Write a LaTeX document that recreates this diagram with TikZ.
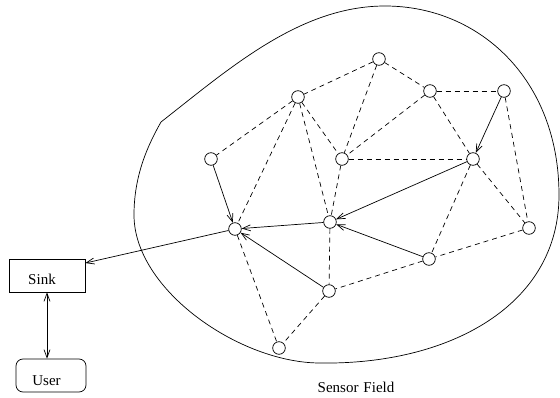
\documentclass[tikz,border=0pt]{standalone}
\usepackage{fontspec}
\setmainfont{Liberation Serif}
\usetikzlibrary{arrows.meta}
\begin{document}
\begin{tikzpicture}[x=1pt,y=-1pt,
  sensor/.style={circle,draw,line width=0.7pt,minimum size=12.6pt,inner sep=0pt},
  radio/.style={draw,line width=0.7pt,dash pattern=on 5pt off 4pt},
  flow/.style={draw,line width=0.7pt,-{Straight Barb[length=8pt,width=6pt]}},
  lbl/.style={font=\fontsize{15}{18}\selectfont,anchor=base,inner sep=0pt}]
\useasboundingbox (0,0) rectangle (560,398);
% sensor field outline
\draw[line width=0.7pt] (161,122) .. controls (230,68) and (300,6) .. (385,6)
  .. controls (480,6) and (559,80) .. (559,195)
  .. controls (559,305) and (450,365) .. (320,363)
  .. controls (240,363) and (134,290) .. (134,215)
  .. controls (134,175) and (148,145) .. (161,122) -- cycle;
% sensors
\node[sensor] (A) at (379,59) {};
\node[sensor] (B) at (298,97) {};
\node[sensor] (C) at (430,91) {};
\node[sensor] (D) at (504,91) {};
\node[sensor] (E) at (211,159) {};
\node[sensor] (F) at (342,159) {};
\node[sensor] (G) at (473,159) {};
\node[sensor] (H) at (235,229) {};
\node[sensor] (I) at (330,222) {};
\node[sensor] (J) at (529,228) {};
\node[sensor] (K) at (429,259) {};
\node[sensor] (L) at (329,291) {};
\node[sensor] (M) at (279,348) {};
% sink and user
\node[draw,line width=0.7pt,minimum width=76pt,minimum height=33pt,inner sep=0pt] (sink) at (47,275.5) {};
\node[draw,line width=0.7pt,rounded corners=7pt,minimum width=70pt,minimum height=33pt,inner sep=0pt] (user) at (51,375.5) {};
\node[lbl] (sinktxt) at (42,285) {Sink};
\node[lbl] (usertxt) at (46.5,385) {User};
\node[lbl] (field) at (356,392) {Sensor\,\,Field};
% radio links
\foreach \a/\b in {A/B,A/C,A/F,C/D,C/F,C/G,B/E,B/H,B/I,B/F,F/G,F/I,D/J,G/J,G/K,J/K,K/L,I/L,H/M,L/M}
  \path[radio] (\a) -- (\b);
% data flow
\foreach \a/\b in {E/H,D/G,G/I,I/H,L/H,K/I}
  \path[flow] (\a) -- (\b);
\path[flow] (H) -- (sink.18);
\path[draw,line width=0.7pt,{Straight Barb[length=8pt,width=6pt]}-{Straight Barb[length=8pt,width=6pt]}] (sink.south) -- (sink.south |- user.north);
\end{tikzpicture}
\end{document}
